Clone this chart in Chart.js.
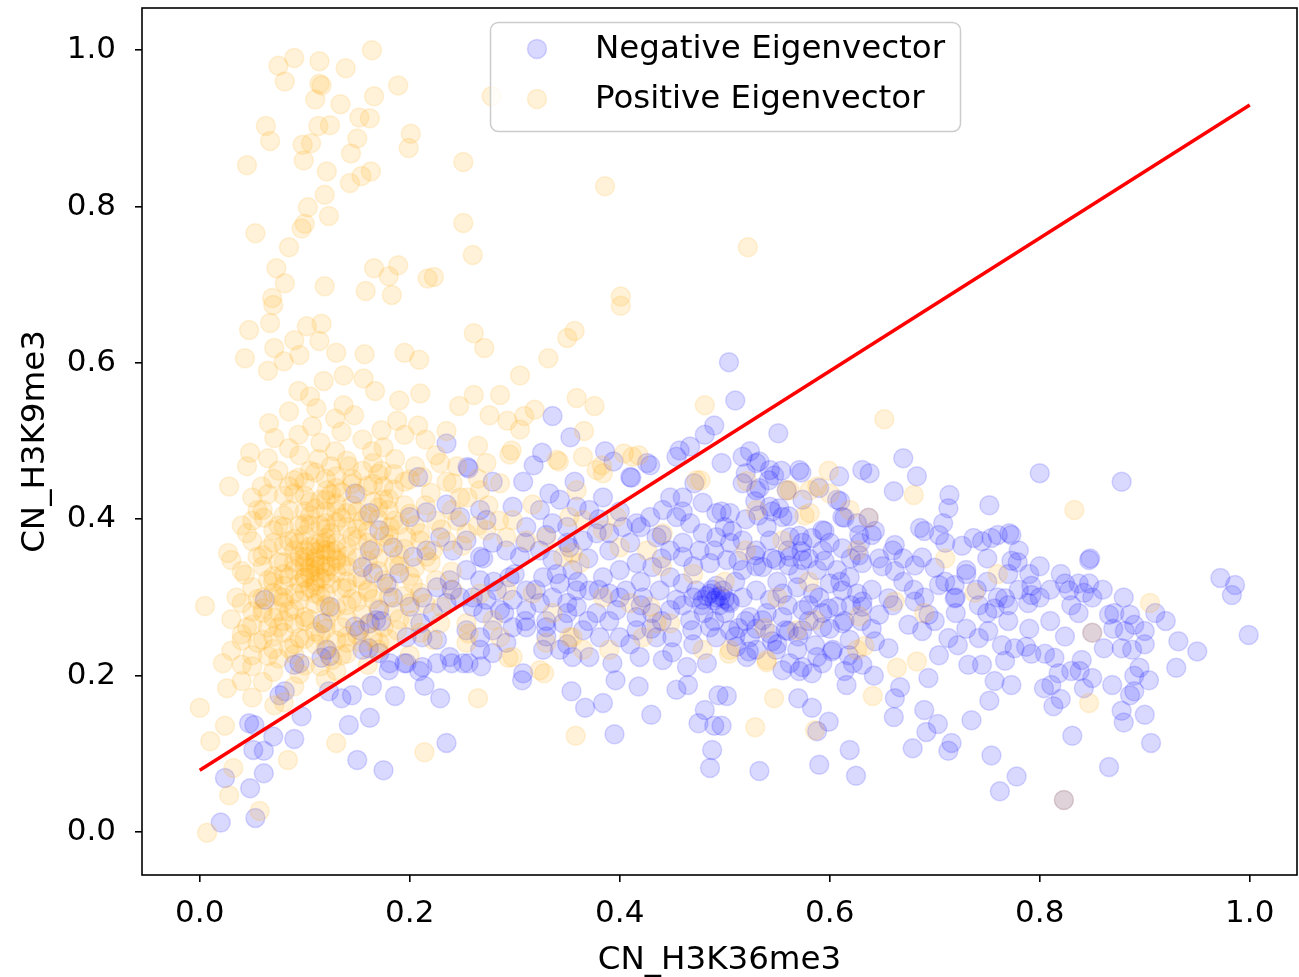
<!DOCTYPE html>
<html>
<head>
<meta charset="utf-8">
<title>CN_H3K36me3 vs CN_H3K9me3</title>
<script src="https://cdn.jsdelivr.net/npm/chart.js@4.4.1/dist/chart.umd.min.js"></script>
<style>
  html, body { margin: 0; padding: 0; background: #fff; }
  canvas { display: block; }
</style>
</head>
<body>
<canvas id="c" width="1299" height="977"></canvas>
<script>
// bins with negative eigenvector sign: [CN_H3K36me3, CN_H3K9me3]
const negPoints = [
  [0.02,0.012],[0.053,0.018],[0.048,0.056],[0.061,0.075],[0.024,0.069],[0.051,0.105],[0.061,0.104],[0.07,0.122],
  [0.09,0.119],[0.097,0.148],[0.047,0.139],[0.052,0.137],[0.081,0.18],[0.076,0.175],[0.142,0.137],[0.15,0.092],
  [0.175,0.079],[0.162,0.146],[0.186,0.174],[0.164,0.187],[0.145,0.175],[0.135,0.171],[0.123,0.18],[0.18,0.207],
  [0.195,0.216],[0.209,0.206],[0.214,0.187],[0.124,0.225],[0.116,0.223],[0.09,0.214],[0.161,0.235],[0.173,0.27],
  [0.062,0.297],[0.148,0.263],
  [0.229,0.171],[0.235,0.114],[0.307,0.194],[0.354,0.18],[0.367,0.159],[0.384,0.165],[0.395,0.125],[0.396,0.194],
  [0.418,0.186],[0.43,0.15],[0.454,0.182],[0.465,0.188],[0.475,0.139],[0.481,0.156],[0.49,0.136],[0.488,0.105],
  [0.486,0.082],[0.494,0.175],[0.268,0.212],[0.256,0.216],[0.24,0.216],
  [0.533,0.078],[0.59,0.086],[0.625,0.072],[0.619,0.105],[0.599,0.141],[0.583,0.159],[0.57,0.171],[0.588,0.129],
  [0.661,0.147],[0.679,0.107],[0.69,0.156],[0.692,0.128],[0.703,0.138],[0.713,0.104],[0.716,0.114],[0.735,0.143],
  [0.752,0.168],[0.754,0.098],[0.762,0.052],[0.667,0.185],[0.662,0.171],[0.732,0.214],[0.694,0.197],[0.642,0.2],
  [0.616,0.188],[0.571,0.206],[0.583,0.203],[0.562,0.216],[0.502,0.174],[0.497,0.136],
  [0.823,0.041],[0.778,0.071],[0.866,0.083],[0.831,0.123],[0.906,0.114],[0.813,0.161],[0.878,0.155],[0.886,0.175],
  [0.89,0.18],[0.869,0.188],[0.904,0.194],[0.895,0.21],[0.85,0.197],[0.842,0.184],[0.838,0.206],[0.83,0.206],
  [0.818,0.203],[0.811,0.188],[0.804,0.184],[0.792,0.228],[0.787,0.237],[0.776,0.235],[0.773,0.188],[0.805,0.228],
  [0.814,0.223],[0.824,0.25],[0.85,0.255],[0.861,0.235],[0.878,0.235],[0.888,0.233],[0.837,0.28],[0.866,0.278],
  [0.871,0.28],[0.886,0.278],[0.89,0.265],[0.9,0.257],[0.881,0.257],[0.932,0.244],[0.95,0.231],[0.999,0.252],
  [0.983,0.303],[0.789,0.293],[0.792,0.303],[0.842,0.306],[0.828,0.309],
  [0.8,0.459],[0.878,0.448],[0.773,0.38],[0.779,0.345],[0.847,0.348],[0.848,0.35],[0.792,0.315],[0.824,0.318],
  [0.837,0.318],[0.847,0.318],[0.972,0.325],[0.986,0.316],
  [0.504,0.601],[0.51,0.552],[0.551,0.51],[0.524,0.487],[0.533,0.474],[0.497,0.472],[0.52,0.459],[0.542,0.45],
  [0.547,0.456],[0.554,0.462],[0.573,0.46],[0.609,0.455],[0.638,0.459],[0.67,0.478],[0.683,0.455],[0.661,0.436],
  [0.714,0.431],[0.713,0.414],[0.752,0.418],[0.771,0.382],[0.773,0.347],[0.726,0.366],[0.737,0.376],[0.745,0.372],
  [0.754,0.376],[0.704,0.38],[0.708,0.395],[0.686,0.389],[0.69,0.385],[0.73,0.335],[0.688,0.351],[0.662,0.367],
  [0.643,0.385],[0.628,0.38],[0.637,0.402],[0.614,0.402],[0.595,0.385],[0.583,0.376],[0.571,0.379],[0.561,0.404],
  [0.61,0.423],[0.59,0.44],[0.559,0.437],[0.533,0.44],[0.529,0.423],[0.545,0.41],[0.552,0.414],[0.532,0.405],
  [0.507,0.385],[0.497,0.41],
  [0.7,0.338],[0.681,0.341],[0.662,0.334],[0.647,0.35],[0.628,0.354],[0.612,0.363],[0.595,0.347],[0.573,0.359],
  [0.561,0.341],[0.545,0.35],[0.529,0.354],[0.513,0.347],[0.704,0.316],[0.719,0.316],
  [0.481,0.508],[0.49,0.52],[0.457,0.488],[0.467,0.493],[0.429,0.469],[0.411,0.453],[0.394,0.474],[0.386,0.487],
  [0.353,0.505],[0.336,0.532],[0.326,0.485],[0.318,0.469],[0.256,0.465],[0.235,0.497],[0.471,0.446],
  [0.148,0.433],[0.255,0.467],[0.208,0.454],[0.308,0.448],[0.333,0.433],[0.343,0.425],[0.357,0.448],[0.279,0.448],
  [0.216,0.409],[0.2,0.403],[0.235,0.419],[0.248,0.403],[0.267,0.412],[0.273,0.399],[0.298,0.416],[0.311,0.39],
  [0.324,0.412],[0.336,0.395],[0.35,0.39],[0.359,0.416],[0.162,0.408],[0.171,0.386],[0.184,0.364],[0.162,0.36],
  [0.155,0.339],[0.165,0.331],[0.178,0.318],[0.19,0.331],[0.203,0.352],[0.216,0.36],[0.229,0.377],[0.241,0.36],
  [0.254,0.373],[0.267,0.352],[0.279,0.37],[0.292,0.36],[0.305,0.352],[0.324,0.36],[0.336,0.348],[0.352,0.364],
  [0.355,0.335],[0.343,0.318],[0.327,0.326],[0.311,0.309],[0.295,0.326],[0.283,0.309],[0.267,0.322],[0.254,0.335],
  [0.238,0.322],[0.226,0.313],[0.212,0.3],[0.2,0.288],[0.184,0.3],[0.171,0.284],[0.162,0.267],[0.152,0.258],
  [0.168,0.271],[0.21,0.267],[0.222,0.28],[0.235,0.293],[0.248,0.3],[0.26,0.288],[0.273,0.297],[0.286,0.284],
  [0.298,0.297],[0.311,0.284],[0.324,0.293],[0.336,0.3],[0.35,0.293],[0.359,0.309],[0.197,0.249],[0.212,0.249],
  [0.226,0.246],[0.254,0.258],[0.267,0.249],[0.279,0.258],[0.298,0.262],[0.311,0.262],[0.33,0.262],[0.346,0.267],
  [0.171,0.229],[0.155,0.233],[0.121,0.233],[0.181,0.216],[0.197,0.216],[0.212,0.211],[0.226,0.216],[0.238,0.224],
  [0.251,0.216],[0.267,0.233],[0.279,0.229],[0.292,0.242],[0.308,0.203],[0.327,0.233],[0.343,0.233],[0.355,0.224],
  [0.124,0.288],[0.117,0.267],[0.095,0.216],
  [0.517,0.48],[0.53,0.472],[0.543,0.463],[0.571,0.463],[0.631,0.463],[0.426,0.472],[0.454,0.48],[0.41,0.454],
  [0.384,0.428],[0.371,0.412],[0.448,0.428],[0.46,0.428],[0.479,0.421],[0.492,0.408],[0.505,0.408],[0.517,0.446],
  [0.53,0.437],[0.543,0.416],[0.555,0.403],[0.574,0.425],[0.593,0.386],[0.607,0.425],[0.612,0.403],[0.626,0.395],
  [0.629,0.37],[0.593,0.36],[0.574,0.37],[0.562,0.377],[0.543,0.373],[0.53,0.36],[0.517,0.373],[0.505,0.37],
  [0.492,0.377],[0.479,0.382],[0.467,0.395],[0.454,0.403],[0.441,0.412],[0.429,0.403],[0.416,0.395],[0.403,0.39],
  [0.39,0.382],[0.378,0.382],[0.365,0.373],[0.435,0.377],[0.448,0.36],[0.46,0.352],[0.476,0.36],[0.486,0.344],
  [0.502,0.348],[0.517,0.335],[0.536,0.339],[0.549,0.348],[0.562,0.352],[0.574,0.348],[0.588,0.335],[0.607,0.335],
  [0.619,0.326],[0.631,0.344],[0.473,0.309],[0.486,0.305],[0.492,0.3],[0.498,0.309],[0.505,0.293],[0.479,0.297],
  [0.495,0.29],[0.384,0.326],[0.4,0.335],[0.416,0.344],[0.431,0.339],[0.448,0.326],[0.46,0.318],[0.371,0.309],
  [0.39,0.305],[0.406,0.309],[0.422,0.3],[0.438,0.309],[0.454,0.297],[0.359,0.288],[0.378,0.28],[0.397,0.284],
  [0.416,0.275],[0.431,0.28],[0.448,0.284],[0.467,0.271],[0.517,0.3],[0.53,0.309],[0.543,0.297],[0.555,0.305],
  [0.569,0.313],[0.584,0.305],[0.6,0.318],[0.612,0.309],[0.626,0.305],[0.631,0.288],[0.607,0.288],[0.593,0.28],
  [0.574,0.284],[0.555,0.275],[0.536,0.271],[0.524,0.275],[0.505,0.258],[0.486,0.262],[0.524,0.249],[0.543,0.254],
  [0.558,0.258],[0.574,0.258],[0.593,0.262],[0.612,0.267],[0.619,0.246],[0.603,0.233],[0.588,0.224],[0.569,0.233],
  [0.549,0.233],[0.53,0.233],[0.511,0.237],[0.492,0.249],[0.469,0.258],[0.45,0.249],[0.435,0.249],[0.416,0.258],
  [0.4,0.249],[0.381,0.249],[0.365,0.258],[0.371,0.224],[0.393,0.216],[0.419,0.224],[0.441,0.22],[0.464,0.211],
  [0.483,0.216],[0.521,0.224],[0.555,0.207],[0.574,0.211],[0.593,0.216],[0.622,0.216],
  [0.719,0.299],[0.742,0.29],[0.757,0.286],[0.767,0.299],[0.713,0.248],[0.722,0.239],[0.704,0.226],[0.742,0.248],
  [0.751,0.257],[0.764,0.239],[0.767,0.219],[0.757,0.193],[0.745,0.214],[0.688,0.257],[0.675,0.265],[0.694,0.278],
  [0.681,0.295],[0.656,0.299],[0.647,0.278],[0.631,0.295],[0.614,0.27],[0.599,0.286],[0.643,0.244],[0.656,0.235],
  [0.618,0.226],[0.631,0.214],[0.602,0.231],[0.586,0.239],[0.561,0.257],[0.545,0.244],[0.523,0.231],[0.513,0.261],
  [0.504,0.295],[0.614,0.206],
  [0.64,0.31],[0.67,0.32],[0.69,0.3],[0.72,0.3],[0.74,0.31],[0.76,0.3],[0.78,0.31],[0.73,0.33],
  [0.75,0.35],[0.78,0.36],[0.8,0.34],[0.76,0.38],[0.71,0.37],[0.66,0.36],[0.64,0.38],[0.8,0.3],
  [0.81,0.27],[0.79,0.26],[0.77,0.27],[0.83,0.29],[0.85,0.3],[0.82,0.33],[0.86,0.31],[0.88,0.3],
  [0.87,0.26],[0.91,0.28],[0.9,0.24],[0.92,0.27],[0.93,0.21],[0.89,0.2],[0.9,0.15],[0.88,0.14],
  [0.84,0.22],[0.82,0.17],
  [0.483,0.302],[0.49,0.296],[0.488,0.31],[0.496,0.302],[0.478,0.29],[0.5,0.298],[0.492,0.315],[0.47,0.3],
  [0.37,0.35],[0.39,0.36],[0.41,0.37],[0.42,0.32],[0.44,0.35],[0.46,0.37],[0.47,0.34],[0.49,0.36],
  [0.51,0.32],[0.53,0.34],[0.55,0.32],[0.57,0.33],[0.59,0.3],[0.61,0.32],[0.58,0.27],[0.56,0.29],
  [0.54,0.28],[0.52,0.27],[0.5,0.28],[0.48,0.28],[0.46,0.29],[0.44,0.27],[0.42,0.29],[0.4,0.3],
  [0.38,0.31],[0.36,0.32],[0.34,0.33],[0.32,0.31],[0.3,0.33],[0.28,0.32],[0.26,0.3],[0.24,0.31],
  [0.27,0.35],[0.31,0.37],[0.33,0.38],[0.35,0.37],[0.38,0.4],[0.4,0.41],[0.42,0.39],[0.44,0.38],
  [0.46,0.41],[0.5,0.39],[0.52,0.4],[0.54,0.39],[0.56,0.36],[0.58,0.35],[0.6,0.37],[0.62,0.35],
  [0.65,0.34],[0.67,0.35],[0.68,0.31],[0.66,0.29],[0.63,0.27],[0.6,0.26],[0.57,0.25],[0.55,0.24],
  [0.53,0.26],[0.51,0.25],[0.49,0.27],[0.47,0.24],[0.45,0.23],[0.43,0.26],[0.41,0.24],[0.39,0.27],
  [0.37,0.27],[0.35,0.28],[0.33,0.27],[0.31,0.27],[0.29,0.28],[0.27,0.28],[0.35,0.24],[0.33,0.25],
  [0.58,0.29],[0.62,0.29],[0.64,0.26],[0.7,0.27],[0.72,0.28],[0.73,0.26],[0.71,0.32],[0.75,0.32],
  [0.77,0.33],[0.79,0.33],[0.81,0.31],[0.75,0.28],[0.77,0.29]
];

// bins with positive eigenvector sign
const posPoints = [
  [0.164,1.0],[0.09,0.99],[0.075,0.98],[0.114,0.986],[0.139,0.977],[0.081,0.96],[0.114,0.957],[0.116,0.955],
  [0.11,0.937],[0.134,0.931],[0.166,0.941],[0.189,0.955],[0.063,0.903],[0.067,0.884],[0.113,0.903],[0.124,0.904],
  [0.152,0.914],[0.162,0.913],[0.201,0.893],[0.199,0.875],[0.098,0.879],[0.106,0.881],[0.099,0.859],[0.15,0.887],
  [0.144,0.868],[0.045,0.853],[0.121,0.845],[0.143,0.83],[0.154,0.839],[0.163,0.845],[0.119,0.815],[0.103,0.799],
  [0.123,0.788],[0.097,0.772],[0.1,0.778],[0.053,0.766],[0.085,0.748],[0.073,0.721],[0.081,0.702],[0.119,0.698],
  [0.166,0.721],[0.18,0.711],[0.189,0.725],[0.217,0.708],[0.158,0.692],[0.183,0.687],[0.069,0.683],
  [0.278,0.941],[0.251,0.857],[0.386,0.826],[0.251,0.779],[0.26,0.738],[0.223,0.71],[0.401,0.685],[0.522,0.748],
  [0.07,0.674],[0.067,0.651],[0.047,0.642],[0.102,0.647],[0.116,0.65],[0.114,0.628],[0.043,0.606],[0.071,0.619],
  [0.09,0.629],[0.08,0.602],[0.095,0.61],[0.065,0.59],[0.13,0.613],[0.157,0.611],[0.195,0.613],[0.209,0.604],
  [0.137,0.584],[0.156,0.58],[0.167,0.564],[0.094,0.564],[0.105,0.557],[0.118,0.577],[0.19,0.552],[0.21,0.561],
  [0.085,0.538],[0.111,0.542],[0.147,0.533],[0.137,0.546],[0.066,0.523],[0.107,0.519],[0.129,0.529],[0.173,0.514],
  [0.188,0.526],[0.208,0.52],[0.071,0.504],[0.094,0.508],[0.085,0.491],[0.048,0.485],[0.045,0.468],[0.028,0.442],
  [0.059,0.442],[0.129,0.487],[0.164,0.487],[0.113,0.477],[0.142,0.468],[0.186,0.477],[0.075,0.462],[0.094,0.453],
  [0.121,0.437],[0.173,0.462],[0.05,0.398],[0.061,0.402],[0.027,0.357],[0.043,0.329],
  [0.401,0.673],[0.261,0.638],[0.271,0.619],[0.35,0.632],[0.357,0.641],[0.332,0.606],[0.305,0.584],[0.247,0.545],
  [0.261,0.559],[0.286,0.559],[0.276,0.533],[0.293,0.526],[0.309,0.532],[0.319,0.54],[0.359,0.555],[0.376,0.545],
  [0.305,0.515],[0.297,0.488],[0.366,0.513],[0.481,0.546],[0.342,0.474],[0.265,0.494],[0.235,0.513],[0.418,0.482],
  [0.404,0.484],[0.383,0.469],[0.477,0.45],
  [0.005,0.289],[0.022,0.216],[0.0,0.159],[0.024,0.136],[0.01,0.116],[0.032,0.082],[0.028,0.047],[0.057,0.027],
  [0.007,-0.001],[0.084,0.092],[0.13,0.114],[0.214,0.102],[0.026,0.184],[0.04,0.193],[0.04,0.214],[0.071,0.162],
  [0.265,0.171],[0.294,0.223],[0.328,0.203],[0.358,0.123],[0.256,0.254],
  [0.547,0.171],[0.529,0.134],[0.54,0.217],[0.641,0.174],[0.586,0.13],[0.504,0.228],[0.683,0.218],[0.847,0.165],
  [0.823,0.041],[0.652,0.528],[0.833,0.412],[0.905,0.293],[0.85,0.255],[0.68,0.431],[0.599,0.462],[0.576,0.405],
  [0.581,0.437],[0.521,0.449],[0.662,0.295],[0.738,0.306],[0.628,0.276],[0.586,0.271],[0.633,0.238],[0.664,0.21],
  [0.538,0.261],[0.71,0.35],[0.76,0.33],[0.69,0.28],[0.637,0.402],[0.559,0.437],
  [0.295,0.483],[0.34,0.476],[0.273,0.472],[0.229,0.472],[0.212,0.454],[0.241,0.446],[0.267,0.437],[0.286,0.446],
  [0.248,0.428],[0.298,0.399],[0.317,0.419],[0.21,0.382],[0.222,0.36],[0.197,0.377],[0.181,0.39],[0.254,0.382],
  [0.273,0.386],[0.292,0.377],[0.311,0.373],[0.33,0.377],[0.346,0.352],[0.352,0.403],[0.216,0.352],[0.203,0.318],
  [0.241,0.309],[0.267,0.305],[0.292,0.309],[0.317,0.305],[0.336,0.28],[0.279,0.271],[0.254,0.267],[0.229,0.267],
  [0.203,0.271],[0.188,0.258],[0.165,0.249],[0.171,0.242],[0.14,0.242],[0.126,0.22],[0.286,0.249],[0.298,0.224],
  [0.254,0.242],[0.222,0.246],[0.33,0.242],[0.355,0.249],[0.324,0.207],
  [0.378,0.463],[0.384,0.459],[0.412,0.48],[0.365,0.48],[0.473,0.45],[0.359,0.437],[0.397,0.403],[0.384,0.386],
  [0.365,0.399],[0.355,0.357],[0.362,0.344],[0.4,0.364],[0.426,0.36],[0.441,0.382],[0.588,0.442],[0.581,0.408],
  [0.6,0.433],[0.562,0.437],[0.53,0.412],[0.555,0.373],[0.626,0.36],[0.619,0.412],[0.384,0.3],[0.41,0.293],
  [0.429,0.288],[0.448,0.267],[0.435,0.267],[0.422,0.249],[0.479,0.233],[0.505,0.233],[0.54,0.22],[0.569,0.258],
  [0.626,0.233],[0.352,0.249],[0.365,0.233],[0.39,0.233],
  [0.5,0.32],[0.55,0.3],[0.52,0.36],[0.47,0.33],[0.44,0.34],[0.58,0.32],
  [0.07,0.452],[0.1,0.447],[0.13,0.455],[0.16,0.443],[0.2,0.451],
  [0.05,0.428],[0.09,0.433],[0.12,0.425],[0.15,0.432],[0.18,0.426],[0.22,0.434],
  [0.06,0.412],[0.08,0.405],[0.11,0.414],[0.14,0.408],[0.17,0.415],[0.2,0.407],[0.24,0.412],
  [0.04,0.392],[0.07,0.386],[0.1,0.394],[0.12,0.388],[0.13,0.396],[0.16,0.385],[0.19,0.393],[0.23,0.387],
  [0.05,0.372],[0.08,0.366],[0.09,0.375],[0.11,0.368],[0.12,0.376],[0.14,0.365],[0.15,0.374],[0.18,0.368],[0.21,0.373],[0.25,0.366],
  [0.03,0.348],[0.06,0.354],[0.08,0.345],[0.1,0.352],[0.11,0.346],[0.12,0.355],[0.13,0.347],[0.14,0.353],[0.16,0.346],[0.19,0.354],[0.22,0.345],
  [0.04,0.334],[0.07,0.327],[0.09,0.335],[0.1,0.326],[0.11,0.333],[0.12,0.324],[0.13,0.332],[0.15,0.326],[0.17,0.334],[0.2,0.327],[0.24,0.333],
  [0.05,0.313],[0.07,0.306],[0.08,0.315],[0.1,0.308],[0.11,0.316],[0.12,0.305],[0.14,0.312],[0.16,0.307],[0.18,0.314],[0.21,0.306],
  [0.04,0.293],[0.06,0.286],[0.08,0.294],[0.09,0.285],[0.11,0.292],[0.13,0.287],[0.15,0.295],[0.17,0.286],[0.2,0.293],[0.23,0.288],
  [0.03,0.272],[0.05,0.265],[0.07,0.274],[0.09,0.266],[0.1,0.275],[0.12,0.268],[0.14,0.273],[0.16,0.265],[0.19,0.272],
  [0.04,0.253],[0.06,0.246],[0.08,0.255],[0.1,0.247],[0.11,0.256],[0.13,0.245],[0.15,0.252],[0.18,0.247],[0.21,0.255],
  [0.03,0.232],[0.05,0.226],[0.07,0.234],[0.09,0.227],[0.12,0.235],[0.14,0.228],[0.17,0.233],[0.2,0.226],
  [0.05,0.212],[0.07,0.205],[0.1,0.213],[0.13,0.206],[0.16,0.214],
  [0.06,0.192],[0.09,0.186],[0.12,0.195],[0.05,0.172],[0.08,0.166],
  [0.1,0.36],[0.11,0.35],[0.12,0.34],[0.1,0.34],[0.09,0.36],[0.13,0.36],[0.11,0.32],[0.12,0.37],[0.08,0.33],[0.14,0.34],
  [0.075,0.345],[0.085,0.372],[0.095,0.318],[0.105,0.338],[0.115,0.362],[0.125,0.318],[0.135,0.342],[0.145,0.378],
  [0.105,0.392],[0.115,0.302],[0.095,0.392],[0.125,0.382],[0.135,0.402],[0.085,0.412],[0.105,0.422],[0.125,0.432],
  [0.145,0.418],[0.155,0.398],[0.165,0.362],[0.155,0.322],[0.145,0.298],[0.125,0.282],[0.105,0.272],[0.085,0.282],
  [0.075,0.302],[0.065,0.322],[0.065,0.362],[0.075,0.392],[0.095,0.352],[0.115,0.342],[0.105,0.312],[0.095,0.296],
  [0.135,0.312],[0.115,0.392],[0.125,0.358],[0.085,0.326],[0.075,0.282],[0.115,0.252],[0.095,0.248],[0.135,0.262],
  [0.155,0.278],[0.165,0.298],[0.175,0.322],[0.185,0.342],[0.175,0.378],[0.185,0.398],[0.165,0.422],[0.175,0.442],
  [0.195,0.418],[0.205,0.392],[0.215,0.418],[0.225,0.398],[0.235,0.372],[0.195,0.362],[0.205,0.338],[0.225,0.322],
  [0.195,0.302],[0.215,0.292],[0.185,0.282],[0.175,0.262],[0.155,0.242],[0.135,0.226],[0.115,0.212],[0.095,0.202],
  [0.075,0.222],[0.065,0.262],[0.055,0.298],[0.055,0.352],[0.045,0.382],[0.055,0.412],[0.065,0.432],[0.085,0.442],
  [0.105,0.462],[0.125,0.468],[0.145,0.452],[0.165,0.472],[0.185,0.458],[0.205,0.468],[0.225,0.482],[0.245,0.468],
  [0.265,0.452],[0.255,0.428],[0.275,0.418],[0.245,0.398],[0.265,0.392],[0.285,0.398],[0.235,0.448],[0.215,0.502],
  [0.195,0.508],[0.175,0.492],[0.155,0.502],[0.135,0.512],[0.115,0.498],[0.095,0.482],[0.065,0.478],
  [0.1,0.345],[0.11,0.358],[0.12,0.332],[0.105,0.365],[0.115,0.325],[0.095,0.37],[0.13,0.35],[0.1,0.325],
  [0.12,0.36],[0.11,0.34],[0.105,0.33],[0.115,0.37],[0.09,0.345],[0.125,0.34],[0.1,0.38],[0.12,0.395],
  [0.11,0.305],[0.09,0.305],[0.13,0.37],[0.14,0.32],
  [0.08,0.43],[0.1,0.43],[0.13,0.42],[0.15,0.41],[0.17,0.4],[0.16,0.37],[0.15,0.35],[0.17,0.35],
  [0.16,0.31],[0.14,0.29],[0.12,0.29],[0.08,0.3],[0.07,0.32],[0.06,0.34],[0.07,0.37],[0.08,0.39],
  [0.1,0.41],[0.12,0.41],[0.14,0.39],[0.18,0.38],[0.19,0.34],[0.18,0.3],[0.1,0.27],[0.08,0.27],
  [0.06,0.28],[0.12,0.26],[0.14,0.25],[0.09,0.24],[0.11,0.24],[0.13,0.44],[0.11,0.46],[0.09,0.45],
  [0.105,0.405],[0.115,0.425],[0.135,0.435],[0.145,0.445],[0.155,0.462],[0.165,0.445],[0.175,0.425],[0.185,0.438],
  [0.195,0.448],[0.14,0.475],[0.12,0.452],[0.16,0.405],[0.18,0.412],[0.15,0.388],[0.13,0.41],[0.17,0.458],
  [0.045,0.262],[0.055,0.242],[0.065,0.225],[0.04,0.245],[0.06,0.3],[0.05,0.282],[0.035,0.3],[0.07,0.25],
  [0.085,0.235],[0.075,0.262]
];

// fitted line through both groups
const fitX = [0.0, 1.0];
const fitY = [0.079, 0.93];

const xTicks = [0.0, 0.2, 0.4, 0.6, 0.8, 1.0];
const yTicks = [0.0, 0.2, 0.4, 0.6, 0.8, 1.0];

const TICK_FONT = { family: "DejaVu Sans", size: 31 };
const LABEL_FONT = { family: "DejaVu Sans", size: 32.5 };
const BLUE = "rgba(0, 0, 255, 0.15)";
const ORANGE = "rgba(255, 165, 0, 0.15)";

// black box round the plot area, like matplotlib spines
const framePlugin = {
  id: "frame",
  afterDatasetsDraw(chart) {
    const { ctx, chartArea: a } = chart;
    ctx.save();
    ctx.strokeStyle = "#000";
    ctx.lineWidth = 1.6;
    ctx.strokeRect(a.left, a.top, a.right - a.left, a.bottom - a.top);
    ctx.restore();
  },
};

// matplotlib style legend box in the upper middle of the axes
const legendPlugin = {
  id: "boxLegend",
  afterDraw(chart) {
    const { ctx } = chart;
    const items = chart.data.datasets.filter((d) => d.type === "scatter");
    const x0 = 490, y0 = 22, w = 470, h = 109, r = 8;
    ctx.save();
    ctx.beginPath();
    ctx.roundRect(x0 + 0.5, y0 + 0.5, w, h, r);
    ctx.fillStyle = "rgba(255,255,255,0.8)";
    ctx.fill();
    ctx.strokeStyle = "#cccccc";
    ctx.lineWidth = 1.5;
    ctx.stroke();
    items.forEach((d, i) => {
      const cy = y0 + 27 + i * 50;
      ctx.beginPath();
      ctx.arc(537, cy, d.pointRadius, 0, Math.PI * 2);
      ctx.fillStyle = d.backgroundColor;
      ctx.fill();
      ctx.strokeStyle = d.borderColor;
      ctx.lineWidth = d.borderWidth;
      ctx.stroke();
      ctx.fillStyle = "#000";
      ctx.font = `${LABEL_FONT.size}px ${LABEL_FONT.family}`;
      ctx.textBaseline = "middle";
      ctx.textAlign = "left";
      ctx.fillText(d.label, 595, cy + 1);
    });
    ctx.restore();
  },
};

const toXY = (pts) => pts.map(([x, y]) => ({ x, y }));

new Chart(document.getElementById("c").getContext("2d"), {
  type: "scatter",
  data: {
    datasets: [
      {
        type: "scatter",
        label: "Negative Eigenvector",
        data: toXY(negPoints),
        backgroundColor: BLUE,
        borderColor: BLUE,
        borderWidth: 1.5,
        pointRadius: 9.5,
        order: 3,
      },
      {
        type: "scatter",
        label: "Positive Eigenvector",
        data: toXY(posPoints),
        backgroundColor: ORANGE,
        borderColor: ORANGE,
        borderWidth: 1.5,
        pointRadius: 9.5,
        order: 2,
      },
      {
        type: "line",
        label: "fit",
        data: fitX.map((x, i) => ({ x, y: fitY[i] })),
        borderColor: "red",
        borderWidth: 3.5,
        pointRadius: 0,
        fill: false,
        order: 1,
      },
    ],
  },
  options: {
    responsive: false,
    devicePixelRatio: 1,
    animation: false,
    // no automatic room for point radii: the axes box sits where the margins say
    layout: { autoPadding: false, padding: { top: 8, right: 2, left: 0, bottom: 0 } },
    plugins: { legend: { display: false }, tooltip: { enabled: false } },
    scales: {
      x: {
        type: "linear",
        min: -0.055,
        max: 1.045,
        afterBuildTicks: (s) => { s.ticks = xTicks.map((v) => ({ value: v })); },
        afterFit: (s) => { s.height = 102; s.paddingLeft = 0; s.paddingRight = 0; },
        ticks: { font: TICK_FONT, color: "#000", padding: 13, maxRotation: 0, callback: (v) => Number(v).toFixed(1) },
        grid: { drawOnChartArea: false, drawTicks: true, tickLength: 7, color: "#000", lineWidth: 1.6 },
        border: { display: false },
        title: { display: true, text: "CN_H3K36me3", font: LABEL_FONT, color: "#000", padding: { top: 0, bottom: -3 } },
      },
      y: {
        type: "linear",
        min: -0.055,
        max: 1.054,
        afterBuildTicks: (s) => { s.ticks = yTicks.map((v) => ({ value: v })); },
        afterFit: (s) => { s.width = 142; s.paddingTop = 0; s.paddingBottom = 0; },
        ticks: { font: TICK_FONT, color: "#000", padding: 19, callback: (v) => Number(v).toFixed(1) },
        grid: { drawOnChartArea: false, drawTicks: true, tickLength: 7, color: "#000", lineWidth: 1.6 },
        border: { display: false },
        title: { display: true, text: "CN_H3K9me3", font: LABEL_FONT, color: "#000", padding: { top: 16, bottom: 0 } },
      },
    },
  },
  plugins: [framePlugin, legendPlugin],
});
</script>
</body>
</html>
